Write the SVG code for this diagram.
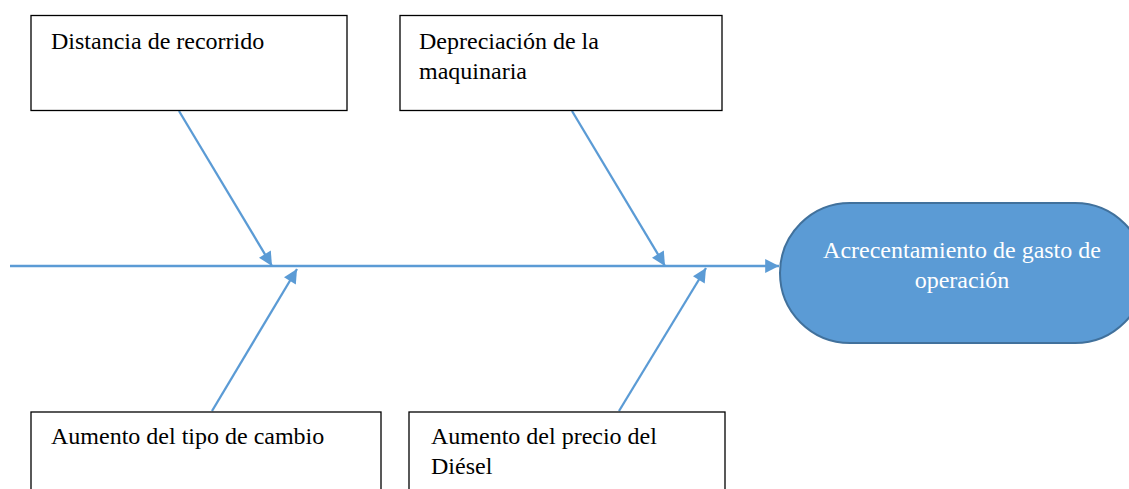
<svg xmlns="http://www.w3.org/2000/svg" width="1129" height="489" viewBox="0 0 1129 489">
<style>
.box{fill:#fff;stroke:#000;stroke-width:1.3}
.t{font-family:"Liberation Serif","Times New Roman",serif;font-size:24px;fill:#000}
.w{fill:#fff;text-anchor:middle}
.c{stroke:#5b9bd5;stroke-width:2.3;fill:none;marker-end:url(#ah)}
</style>
<defs>
<marker id="ah" viewBox="0 0 10 10" refX="10" refY="5" markerWidth="7" markerHeight="6" markerUnits="strokeWidth" orient="auto">
<path d="M0,0 L10,5 L0,10 z" fill="#5b9bd5"/>
</marker>
</defs>
<rect width="1129" height="489" fill="#fff"/>
<g id="connectors">
<line class="c" x1="10" y1="266" x2="779" y2="266"/>
<line class="c" x1="179" y1="111" x2="272" y2="266"/>
<line class="c" x1="572" y1="111" x2="665" y2="266"/>
<line class="c" x1="212" y1="411" x2="297" y2="269"/>
<line class="c" x1="619" y1="411" x2="706" y2="268"/>
</g>
<g id="n1">
<rect class="box" x="31" y="15.5" width="316" height="95"/>
<text class="t" x="51" y="49">Distancia de recorrido</text>
</g>
<g id="n2">
<rect class="box" x="400" y="15.5" width="322" height="95"/>
<text class="t" x="419" y="49">Depreciación de la</text>
<text class="t" x="419" y="79">maquinaria</text>
</g>
<g id="n3">
<rect class="box" x="31" y="412" width="350" height="90"/>
<text class="t" x="51" y="444">Aumento del tipo de cambio</text>
</g>
<g id="n4">
<rect class="box" x="409" y="412" width="316" height="90"/>
<text class="t" x="431" y="444">Aumento del precio del</text>
<text class="t" x="431" y="474">Diésel</text>
</g>
<g id="effect">
<rect x="780" y="203" width="365" height="140" rx="70" ry="70" fill="#5b9bd5" stroke="#41719c" stroke-width="2"/>
<text class="t w" x="962" y="258">Acrecentamiento de gasto de</text>
<text class="t w" x="962" y="288">operación</text>
</g>
</svg>
